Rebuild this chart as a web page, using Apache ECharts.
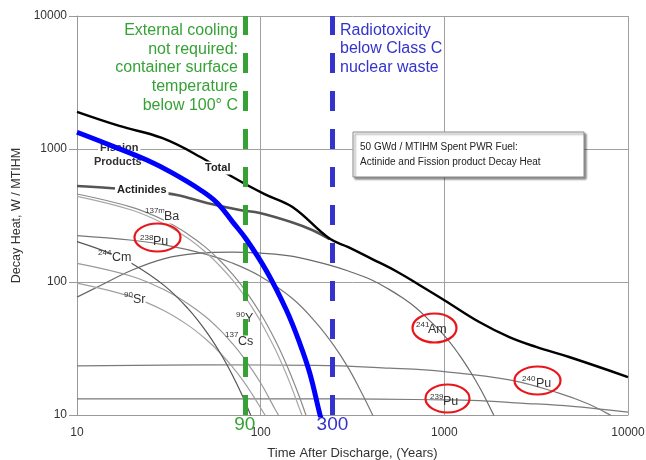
<!DOCTYPE html>
<html><head><meta charset="utf-8">
<script src="https://cdn.jsdelivr.net/npm/echarts@6/dist/echarts.min.js"></script>
<style>html,body{margin:0;padding:0;background:#fff}#c{width:646px;height:460px}</style>
</head><body><div id="c"></div>
<script>
// ---- data (years, W/MTIHM) ----
const totalHeat = [[10,1900],[17,1490],[29,1210],[47,870],[72,605],[105,458],[149,366],[237,212],[300,183],[400,150],[550,120],[731,95],[1000,73],[1550,50],[2260,38.5],[3160,32.5],[4780,27.3],[10000,19.3]];
const fissionProducts = [[10,1336],[15,1075],[24,826],[33,661],[47,492],[58,393],[70.5,282],[84,207],[108,120],[138,61.5],[163,34.8],[185,20.7],[209,10.4],[215,9]];
const actinides = [[10,527],[15,509],[25,480],[35,451],[51,393],[77,348],[99,330],[149,280],[192,245],[237,210]];
const ba137m = [[10,459],[20,364],[30,290],[40,230],[50,183],[60,145],[70,115],[80,91.5],[100,57.7],[120,36.5],[140,23],[160,14.5],[180,9.2]];
const y90 = [[10,440],[20,346],[30,272],[40,214],[50,168],[60,132],[70,104],[80,81.6],[90,64.1],[100,50.4],[120,31.2],[140,19.3],[160,11.9],[175,8.5]];
const pu238 = [[10,223],[20,206],[30,190],[50,162],[70,139],[100,110],[150,74.5],[200,49.5],[250,33.4],[300,22.6],[350,15.2],[410,9.8]];
const cm244 = [[10,201],[15,165],[20,137],[30,93.5],[40,63.6],[50,43.3],[60,29.5],[70,20.1],[80,13.7],[90,9.3]];
const cs137 = [[10,138],[20,110],[30,87],[40,69],[50,55],[60,43.6],[70,34.6],[80,27.5],[100,17.4],[120,11],[128,9.5]];
const sr90 = [[10,98],[20,77],[30,60.6],[40,47.6],[50,37.4],[60,29.4],[70,23.1],[80,18.2],[90,14.3],[100,11.3],[108,9.5]];
const am241 = [[10,77],[13,92],[20,123],[30,150],[45,164],[70,168],[100,165],[150,156],[237,134],[300,121],[400,104],[500,88],[600,75],[700,64],[800,54],[1000,39.5],[1200,28.6],[1400,20.7],[1600,15],[1800,10.9],[1900,9.3]];
const pu240 = [[10,23.4],[50,23.8],[200,23.6],[500,22.5],[1000,21.2],[2300,18.3],[4200,14.6],[6000,12.2],[8000,10],[9000,9]];
const pu239 = [[10,13.2],[300,13.2],[1000,13],[1400,12.9],[2600,12.3],[5000,11.6],[10000,10.5]];
const coolingLine = {x: 82, label: '90'};
const toxicityLine = {x: 246, label: '300'};
const xRange = [10, 10000];
const yRange = [10, 10000];

const FONT = '"Liberation Sans", Arial, sans-serif';
const GREEN = '#36a236';
const BLUE2 = '#3434cc';

function thin(name, data, color, width) {
  return {name, type:'line', data, showSymbol:false, smooth:0.4, z:2,
    lineStyle:{color, width: width || 1.2}, emphasis:{disabled:true}};
}

const chart = echarts.init(document.getElementById('c'), null, {renderer:'canvas'});

function txt(text, x, y, opt) {
  opt = opt || {};
  return {type:'text', x, y, z: opt.z || 100, silent:true,
    style:{text, fill: opt.color || '#222', font: opt.font || ('12px ' + FONT),
      align: opt.align || 'left', verticalAlign:'middle',
      backgroundColor: opt.bg, padding: opt.pad}};
}
function ell(cx, cy, rx, ry) {
  return {type:'ellipse', z:110, silent:true, shape:{cx, cy, rx, ry},
    style:{fill:'none', stroke:'#e8151b', lineWidth:2.2}};
}
const sup = '8px ' + FONT, main = '12.5px ' + FONT, bold = 'bold 11px ' + FONT;

chart.setOption({
  animation:false,
  backgroundColor:'#fff',
  grid:{left:77, right:18, top:16, bottom:45, outerBoundsMode:'none', containLabel:false},
  xAxis:{type:'log', logBase:10, min:xRange[0], max:xRange[1],
    name:'Time After Discharge, (Years)', nameLocation:'middle', nameGap:32,
    nameTextStyle:{fontFamily:FONT, fontSize:13, color:'#333'},
    axisLine:{lineStyle:{color:'#999'}}, axisTick:{show:false},
    axisLabel:{fontFamily:FONT, fontSize:12, color:'#333', margin:12, formatter:v=>String(Math.round(v))},
    splitLine:{show:true, lineStyle:{color:'#a0a0a0', width:1}}, minorSplitLine:{show:false}},
  yAxis:{type:'log', logBase:10, min:yRange[0], max:yRange[1],
    name:'Decay Heat, W / MTIHM', nameLocation:'middle', nameGap:54,
    nameTextStyle:{fontFamily:FONT, fontSize:12.5, color:'#333'},
    axisLine:{show:true, lineStyle:{color:'#999'}}, axisTick:{show:true, length:8, lineStyle:{color:'#999'}},
    axisLabel:{fontFamily:FONT, fontSize:12, color:'#333', margin:10, formatter:v=>String(Math.round(v))},
    splitLine:{show:true, lineStyle:{color:'#a0a0a0', width:1}}},
  series:[
    thin('240Pu', pu240, '#7a7a7a'),
    thin('239Pu', pu239, '#7a7a7a'),
    thin('241Am', am241, '#6a6a6a'),
    thin('90Sr', sr90, '#a0a0a0'),
    thin('137Cs', cs137, '#9a9a9a'),
    thin('244Cm', cm244, '#555'),
    thin('238Pu', pu238, '#777'),
    thin('90Y', y90, '#a8a8a8'),
    thin('137mBa', ba137m, '#8a8a8a'),
    {name:'Actinides', type:'line', data:actinides, showSymbol:false, smooth:0.4, z:3,
      lineStyle:{color:'#555', width:2.6}},
    {name:'Total', type:'line', data:totalHeat, showSymbol:false, smooth:0.4, z:3,
      lineStyle:{color:'#000', width:2.4}},
    {name:'Fission Products', type:'line', data:fissionProducts, showSymbol:false, smooth:0.4, z:101,
      lineStyle:{color:'#0000ff', width:5}},
    {name:'limits', type:'line', data:[], z:105,
      markLine:{symbol:'none', silent:true, animation:false,
        data:[
          {xAxis:coolingLine.x, lineStyle:{color:GREEN, width:5, type:[20,18]},
            label:{formatter:coolingLine.label, position:'start', distance:0, color:GREEN, fontSize:19, fontFamily:FONT}},
          {xAxis:toxicityLine.x, lineStyle:{color:BLUE2, width:5, type:[20,18]},
            label:{formatter:toxicityLine.label, position:'start', distance:0, color:BLUE2, fontSize:19, fontFamily:FONT}}
        ]}}
  ],
  graphic:[
    // green annotation
    txt('External cooling', 238, 31, {color:GREEN, font:'16px '+FONT, align:'right'}),
    txt('not required:', 238, 49.5, {color:GREEN, font:'16px '+FONT, align:'right'}),
    txt('container surface', 238, 68, {color:GREEN, font:'16px '+FONT, align:'right'}),
    txt('temperature', 238, 87, {color:GREEN, font:'16px '+FONT, align:'right'}),
    txt('below 100\u00b0 C', 238, 105.5, {color:GREEN, font:'16px '+FONT, align:'right'}),
    // blue annotation
    txt('Radiotoxicity', 340, 30.5, {color:BLUE2, font:'16px '+FONT}),
    txt('below Class C', 340, 49, {color:BLUE2, font:'16px '+FONT}),
    txt('nuclear waste', 340, 67.5, {color:BLUE2, font:'16px '+FONT}),
    // info box
    {type:'rect', z:100, silent:true, shape:{x:353, y:132, width:231, height:45},
      style:{fill:'#fff', stroke:'#8a8a8a', lineWidth:1, shadowBlur:2, shadowOffsetX:2, shadowOffsetY:2, shadowColor:'rgba(0,0,0,0.45)'}},
    txt('50 GWd / MTIHM Spent PWR Fuel:', 360, 147, {font:'10px '+FONT, color:'#222', z:101}),
    txt('Actinide and Fission product Decay Heat', 360, 162, {font:'10px '+FONT, color:'#222', z:101}),
    // curve labels
    txt('Fission', 98, 148, {font:bold, color:'#333', bg:'#fff', pad:[0,2]}),
    txt('Products', 93, 162, {font:bold, color:'#333', bg:'#fff', pad:[0,1]}),
    txt('Total', 203, 168, {font:bold, color:'#222', bg:'#fff', pad:[1,2]}),
    txt('Actinides', 115, 189.5, {font:bold, color:'#222', bg:'#fff', pad:[1,2]}),
    txt('137m', 145, 211, {font:sup, color:'#333'}),
    txt('Ba', 164, 217, {font:main, color:'#333', bg:'#fff'}),
    txt('238', 140, 237.5, {font:sup, color:'#333'}),
    txt('Pu', 153, 242, {font:main, color:'#333'}),
    txt('244', 98, 252.5, {font:sup, color:'#333'}),
    txt('Cm', 112, 258, {font:main, color:'#333', bg:'#fff'}),
    txt('90', 124, 294.5, {font:sup, color:'#333'}),
    txt('Sr', 133, 300, {font:main, color:'#333', bg:'#fff'}),
    txt('90', 236, 315, {font:sup, color:'#333'}),
    txt('Y', 245, 319, {font:main, color:'#333'}),
    txt('137', 225, 335, {font:sup, color:'#333'}),
    txt('Cs', 238, 342, {font:main, color:'#333', bg:'#fff'}),
    txt('241', 416, 324.5, {font:sup, color:'#333'}),
    txt('Am', 428, 329.5, {font:main, color:'#333'}),
    txt('239', 430, 397, {font:sup, color:'#333'}),
    txt('Pu', 443, 401.5, {font:main, color:'#333'}),
    txt('240', 522, 379, {font:sup, color:'#333'}),
    txt('Pu', 536, 383.5, {font:main, color:'#333'}),
    ell(157.5, 237.5, 23, 14),
    ell(434.5, 328, 22, 14.5),
    ell(447.5, 398.5, 22, 14),
    ell(537.5, 380.5, 23, 14)
  ]
});
</script></body></html>
